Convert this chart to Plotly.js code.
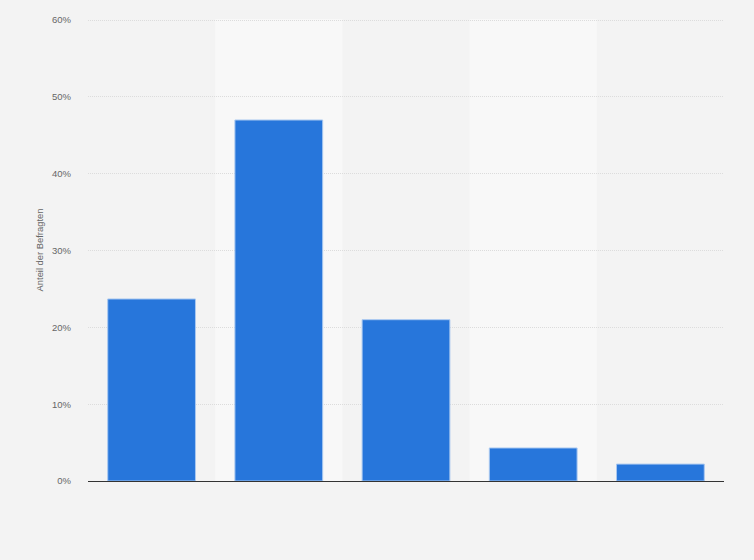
<!DOCTYPE html>
<html>
<head>
<meta charset="utf-8">
<script src="https://cdn.plot.ly/plotly-3.0.1.min.js"></script>
<style>html,body{margin:0;padding:0;background:#f3f3f3;}#chart{width:754px;height:560px;}</style>
</head>
<body>
<div id="chart"></div>
<script>
const categories = ["Kategorie 1", "Kategorie 2", "Kategorie 3", "Kategorie 4", "Kategorie 5"];
const shares = [23.7, 47.0, 21.0, 4.3, 2.2];
const yTickVals = [0, 10, 20, 30, 40, 50, 60];
const yTickText = ["0%", "10%", "20%", "30%", "40%", "50%", "60%"];
const yTitle = "Anteil der Befragten";

const bandShapes = categories.map((c, i) => i % 2 === 1 ? {
  type: 'rect', xref: 'x', yref: 'paper', x0: i - 0.5, x1: i + 0.5, y0: 0, y1: 1,
  fillcolor: '#f8f8f8', line: {width: 0}, layer: 'below'
} : null).filter(Boolean);

Plotly.newPlot('chart', [{
  type: 'bar',
  x: categories,
  y: shares,
  marker: {color: '#2776db', line: {color: '#a9c8f0', width: 1}},
  hoverinfo: 'none'
}], {
  width: 754, height: 560,
  margin: {l: 88, r: 30, t: 19, b: 79},
  paper_bgcolor: '#f3f3f3',
  plot_bgcolor: '#f3f3f3',
  bargap: 0.31,
  showlegend: false,
  shapes: bandShapes,
  font: {family: 'Arial, "Liberation Sans", sans-serif', color: '#666'},
  xaxis: {
    type: 'category',
    showticklabels: false,
    showgrid: false,
    zeroline: false,
    showline: true,
    linecolor: '#333',
    linewidth: 1,
    ticks: '',
    range: [-0.5, 4.5]
  },
  yaxis: {
    range: [0, 60.15],
    tickvals: yTickVals,
    ticktext: yTickText,
    tickfont: {size: 9.5, color: '#666'},
    showgrid: true,
    gridcolor: '#dcdcdc',
    griddash: '1px,1px',
    gridwidth: 1,
    zeroline: false,
    ticks: '',
    ticklabelstandoff: 16,
    title: {text: yTitle, font: {size: 9.4, color: '#666'}, standoff: 6}
  }
}, {displayModeBar: false, staticPlot: true});
</script>
</body>
</html>
